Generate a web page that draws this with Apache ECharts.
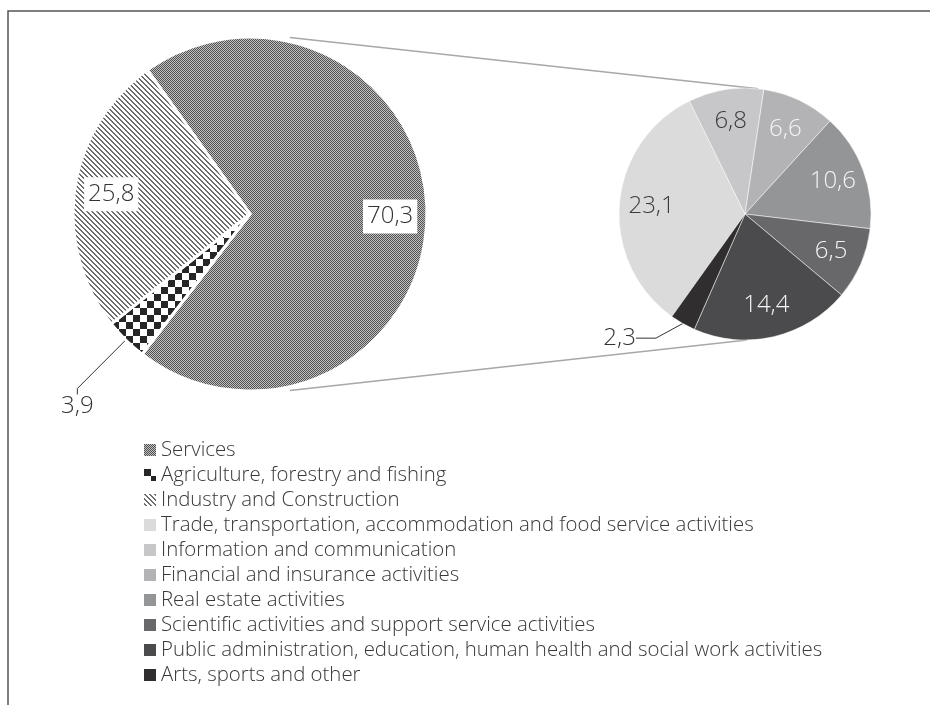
<!DOCTYPE html>
<html>
<head>
<meta charset="utf-8">
<title>Value added by sector</title>
<script src="https://cdn.jsdelivr.net/npm/echarts@6/dist/echarts.min.js"></script>
<style>
  html, body { margin: 0; padding: 0; background: #fff; }
  #chart { width: 930px; height: 705px; }
</style>
</head>
<body>
<div id="chart"></div>
<script>
// main sectors (left pie)
const sectorNames = ["Services", "Agriculture, forestry and fishing", "Industry and Construction"];
const sectorValues = [70.3, 3.9, 25.8];

// breakdown of services (right pie)
const serviceNames = [
  "Trade, transportation, accommodation and food service activities",
  "Information and communication",
  "Financial and insurance activities",
  "Real estate activities",
  "Scientific activities and support service activities",
  "Public administration, education, human health and social work activities",
  "Arts, sports and other",
];
const serviceValues = [23.1, 6.8, 6.6, 10.6, 6.5, 14.4, 2.3];

// these two get their value outside, with a leader line
const outsideNames = ["Agriculture, forestry and fishing", "Arts, sports and other"];

const serviceColors = ["#dbdbdc", "#c7c7c9", "#b3b3b5", "#949597", "#68686a", "#4b4b4d", "#302e2f"];
const serviceLabelColors = ["#3c3c3c", "#3c3c3c", "#f4f4f4", "#f4f4f4", "#f4f4f4", "#f4f4f4", "#3c3c3c"];

const LEFT = { cx: 250, cy: 214, r: 177, start: 125.5 };
const RIGHT = { cx: 745, cy: 214, r: 126, start: 234.5 };
const FONT = "'Open Sans', 'DejaVu Sans', sans-serif";
const LABEL_SIZE = 24;

// pixel patterns for the left pie (like the hatch fills of the original)
function makePattern(size, paint) {
  const c = document.createElement("canvas");
  c.width = size;
  c.height = size;
  const ctx = c.getContext("2d");
  for (let y = 0; y < size; y++) {
    for (let x = 0; x < size; x++) {
      ctx.fillStyle = paint(x, y);
      ctx.fillRect(x, y, 1, 1);
    }
  }
  return { image: c, repeat: "repeat" };
}
const sectorFills = [
  makePattern(2, (x, y) => ((x + y) % 2 ? "#c0c0c0" : "#525252")),
  makePattern(14, (x, y) => ((Math.floor(x / 7) + Math.floor(y / 7)) % 2 ? "#ffffff" : "#262626")),
  makePattern(5, (x, y) => ((x - y + 5) % 5 < 2 ? "#6c6c6c" : "#ffffff")),
];

const fmt = (p) => String(p.value).replace(".", ",");

function edgePoint(p, deg) {
  const a = (deg * Math.PI) / 180;
  return [p.cx + p.r * Math.cos(a), p.cy - p.r * Math.sin(a)];
}

const outsideLabel = {
  show: true,
  position: "outside",
  alignTo: "none",
  formatter: fmt,
  fontSize: LABEL_SIZE,
  fontFamily: FONT,
  fontWeight: 300,
  color: "#333",
  distanceToLabelLine: 6,
};

function mainData(names, values, colors) {
  return names.map((name, i) => {
    const out = outsideNames.includes(name);
    return {
      name: name,
      value: values[i],
      itemStyle: { color: colors[i] },
      label: { show: out },
      labelLine: { show: out },
    };
  });
}

function overlayData(names, values, labelColors) {
  return names.map((name, i) => ({
    name: name,
    value: values[i],
    label: {
      show: !outsideNames.includes(name),
      color: labelColors ? labelColors[i] : "#333",
    },
  }));
}

// nudge the two outside labels to where the original has them
function nudge(shiftX, shiftY) {
  return function (params) {
    const r = params.labelRect;
    return {
      x: r.x + r.width / 2 + shiftX,
      y: r.y + r.height / 2 + shiftY,
      align: "center",
      verticalAlign: "middle",
    };
  };
}

const chart = echarts.init(document.getElementById("chart"));

const option = {
  animation: false,
  backgroundColor: "#fff",
  legend: {
    orient: "vertical",
    left: 144,
    top: 440,
    padding: 0,
    itemWidth: 12,
    itemHeight: 12,
    itemGap: 5,
    icon: "rect",
    selectedMode: false,
    itemStyle: { borderWidth: 0 },
    textStyle: { fontSize: 20.4, lineHeight: 20, color: "#383838", fontFamily: FONT, fontWeight: 300 },
    data: sectorNames.concat(serviceNames),
  },
  series: [
    {
      name: "Sector shares",
      type: "pie",
      center: [LEFT.cx, LEFT.cy],
      radius: [0, LEFT.r],
      startAngle: LEFT.start,
      clockwise: true,
      avoidLabelOverlap: false,
      emphasis: { disabled: true },
      itemStyle: { borderColor: "#fff", borderWidth: 3 },
      label: outsideLabel,
      labelLine: { length: 40, length2: 6, lineStyle: { color: "#333", width: 1 } },
      labelLayout: nudge(8, 38),
      data: mainData(sectorNames, sectorValues, sectorFills),
    },
    {
      name: "Service breakdown",
      type: "pie",
      center: [RIGHT.cx, RIGHT.cy],
      radius: [0, RIGHT.r],
      startAngle: RIGHT.start,
      clockwise: true,
      avoidLabelOverlap: false,
      emphasis: { disabled: true },
      itemStyle: { borderColor: "#fff", borderWidth: 0.5 },
      label: outsideLabel,
      labelLine: { length: 26, length2: 20, lineStyle: { color: "#333", width: 1 } },
      labelLayout: nudge(-8, -8),
      data: mainData(serviceNames, serviceValues, serviceColors),
    },
    // transparent rings used only to place the inside labels further out
    {
      name: "Sector labels",
      type: "pie",
      silent: true,
      center: [LEFT.cx, LEFT.cy],
      radius: [LEFT.r * 0.55, LEFT.r],
      startAngle: LEFT.start,
      clockwise: true,
      avoidLabelOverlap: false,
      emphasis: { disabled: true },
      itemStyle: { color: "rgba(0,0,0,0)", borderWidth: 0 },
      label: {
        position: "inside",
        formatter: fmt,
        fontSize: LABEL_SIZE,
        fontFamily: FONT,
        fontWeight: 300,
        backgroundColor: "#fff",
        padding: [6, 4, 4, 4],
      },
      labelLine: { show: false },
      data: overlayData(sectorNames, sectorValues, null),
    },
    {
      name: "Service labels",
      type: "pie",
      silent: true,
      center: [RIGHT.cx, RIGHT.cy],
      radius: [RIGHT.r * 0.44, RIGHT.r],
      startAngle: RIGHT.start,
      clockwise: true,
      avoidLabelOverlap: false,
      emphasis: { disabled: true },
      itemStyle: { color: "rgba(0,0,0,0)", borderWidth: 0 },
      label: {
        position: "inside",
        formatter: fmt,
        fontSize: LABEL_SIZE,
        fontFamily: FONT,
        fontWeight: 300,
      },
      labelLine: { show: false },
      data: overlayData(serviceNames, serviceValues, serviceLabelColors),
    },
  ],
};

// connector lines between the two pies, and the frame
const upA = edgePoint(LEFT, 77), upB = edgePoint(RIGHT, 84);
const lowA = edgePoint(LEFT, -77), lowB = edgePoint(RIGHT, -89);
option.graphic = [
  {
    type: "line", silent: true,
    shape: { x1: upA[0], y1: upA[1] - 4, x2: upB[0], y2: upB[1] },
    style: { stroke: "#a8a8a8", lineWidth: 1.5 },
  },
  {
    type: "line", silent: true,
    shape: { x1: lowA[0], y1: lowA[1] + 4, x2: lowB[0], y2: lowB[1] },
    style: { stroke: "#a8a8a8", lineWidth: 1.5 },
  },
  {
    type: "polyline", silent: true,
    shape: { points: [[8, 705], [8, 11], [930, 11]] },
    style: { stroke: "#555", lineWidth: 1.5, fill: null },
  },
];

chart.setOption(option);
</script>
</body>
</html>
